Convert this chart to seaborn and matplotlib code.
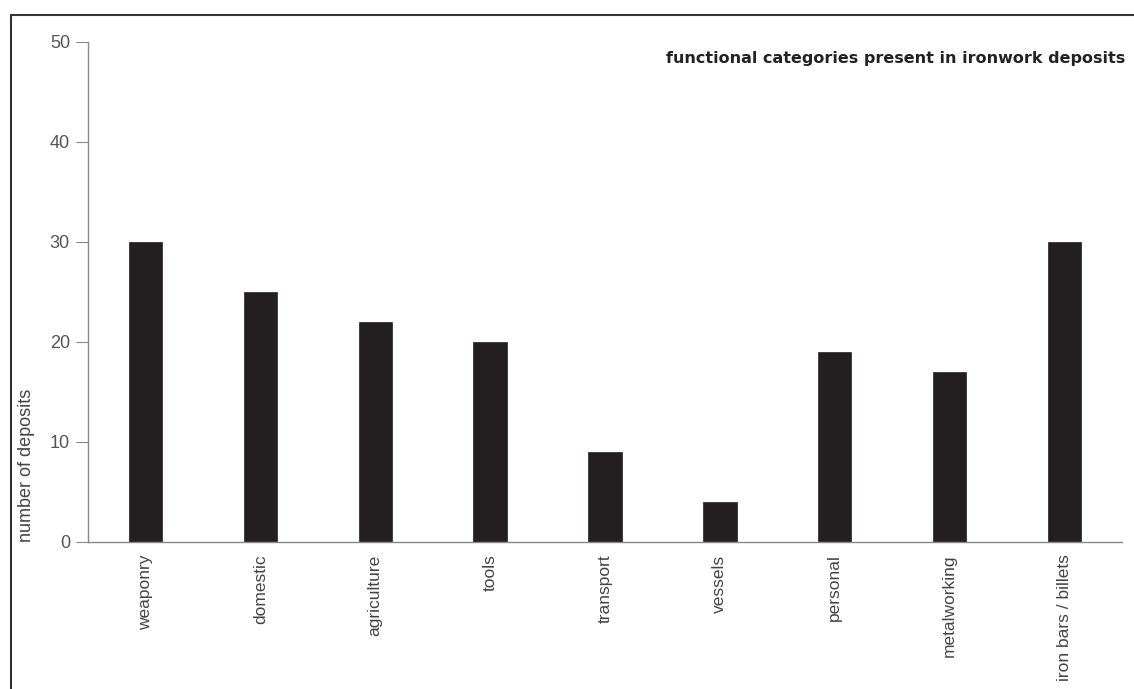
import numpy as np
import pandas as pd
import matplotlib
matplotlib.use('Agg')
import matplotlib.pyplot as plt
from matplotlib.lines import Line2D
from matplotlib.ticker import FixedLocator
import seaborn as sns

# Data
categories = ['weaponry', 'domestic', 'agriculture', 'tools', 'transport',
              'vessels', 'personal', 'metalworking', 'iron bars / billets']
deposits = [30, 25, 22, 20, 9, 4, 19, 17, 30]

yTicks = [0, 10, 20, 30, 40, 50]
titleText = 'functional categories present in ironwork deposits'
yLabelText = 'number of deposits'

df = pd.DataFrame({'category': categories, 'deposits': deposits})

#======================================================================================
# Style
sns.set_style('white')
plt.rcParams['font.family'] = ['Liberation Sans', 'DejaVu Sans']

fig = plt.figure(figsize=(11.34, 6.89), dpi=100)
ax = fig.add_axes([88/1134, 1 - 542/689, 1034/1134, 500/689])

sns.barplot(data=df, x='category', y='deposits', color='#231f20',
            saturation=1, width=0.29, edgecolor='#231f20', linewidth=0.5, ax=ax)

ax.set_xlim(-0.5, len(categories) - 0.5)
ax.set_ylim(0, 50)
ax.set_yticks(yTicks)
ax.set_yticklabels([str(t) for t in yTicks])

# category labels at bar centres, tick marks at the boundaries
ax.set_xticks(range(len(categories)))
ax.set_xticklabels(categories, rotation=90, va='top', ha='center')
ax.xaxis.set_minor_locator(FixedLocator(np.arange(-0.5, len(categories), 1.0)))
ax.tick_params(axis='x', which='major', length=0, pad=9, labelsize=12.5, labelcolor='#444444')
ax.tick_params(axis='x', which='minor', length=7, width=0.8, color='#888888', direction='out')
ax.tick_params(axis='y', which='major', length=9, width=0.8, color='#888888', pad=4,
               labelsize=13, labelcolor='#555555', left=True)

ax.set_xlabel('')
ax.set_ylabel(yLabelText, loc='bottom', fontsize=13, color='#444444')
ax.yaxis.set_label_coords(-0.051, 0)

for side in ['top', 'right']:
    ax.spines[side].set_visible(False)
for side in ['left', 'bottom']:
    ax.spines[side].set_color('#888888')
    ax.spines[side].set_linewidth(1.0)

ax.text(1.003, 0.968, titleText, transform=ax.transAxes, ha='right', va='center',
        fontsize=11.5, fontweight='bold', color='#222222', family='DejaVu Sans')

# page frame
fig.add_artist(Line2D([11/1134, 11/1134], [0, 1 - 15/689], color='#333333', lw=1.5))
fig.add_artist(Line2D([11/1134, 1], [1 - 15/689, 1 - 15/689], color='#333333', lw=1.5))

fig.savefig('out.png', dpi=100)
